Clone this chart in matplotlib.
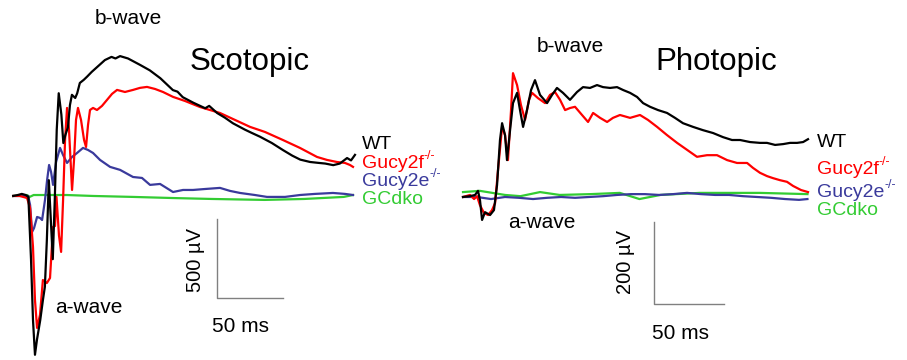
import numpy as np
import matplotlib
matplotlib.use("Agg")
import matplotlib.pyplot as plt

plt.rcParams['font.family'] = ['Liberation Sans', 'DejaVu Sans']

# ---- Scotopic traces: (time ms, amplitude uV) ----
wt_scot = [(-10.5, 0), (-7, 6), (-4, 13), (-1, 6), (1, -6), (3, -400), (4.5, -785), (6, -1005),
           (7.5, -910), (10, -785), (12, -660), (13.5, -575), (15, -280), (16.5, 100), (19.5, -400),
           (21, -25), (22.5, 420), (24, 650), (26, 515), (27.5, 335), (29, 385), (31, 435),
           (32.5, 575), (34, 640), (36.5, 620), (38, 650), (40, 715), (43, 735), (45.5, 755),
           (49, 785), (53, 815), (59, 860), (64, 880), (67, 870), (70.5, 885), (76.5, 870),
           (85.5, 830), (93, 795), (101, 745), (110.5, 670), (114, 660), (118, 625), (126, 590),
           (135, 555), (138, 570), (144, 525), (150, 495), (156, 460), (165, 420), (170, 400),
           (176.5, 375), (185.5, 335), (194, 290), (201, 255), (207, 230), (214.5, 215),
           (220, 210), (226, 205), (232, 195), (237, 205), (242.5, 240), (245.5, 225), (248.5, 260)]
f_scot = [(-10.5, 0), (-5.5, 0), (0, -13), (2.3, -76), (4.5, -323), (6, -658), (7.6, -835),
          (9.8, -753), (12, -532), (15, -551), (17.4, -519), (19.7, -196), (21.2, -190),
          (22.3, -6), (24.2, -250), (25.8, -354), (27.3, -25), (28.8, 354), (30.3, 557),
          (31.8, 418), (34.1, 38), (35.6, 228), (37.1, 481), (38.6, 557), (40.9, 481),
          (43.2, 354), (44.7, 310), (46.2, 449), (47.7, 544), (50, 557), (53, 544),
          (56.8, 570), (60.6, 608), (64.4, 646), (68.2, 671), (74.2, 658), (80.3, 671),
          (85.6, 684), (90.9, 690), (97, 677), (103, 658), (110.6, 627), (119.7, 601),
          (131, 563), (138.6, 544), (146.2, 525), (157.6, 481), (169, 437), (180.3, 405),
          (193.9, 354), (206.8, 304), (219.7, 247), (227.3, 228), (234.8, 215), (240.9, 209),
          (244.7, 196), (247, 184)]
e_scot = [(-10.5, 0), (0.8, 0), (2.3, -57), (3.8, -228), (5.3, -203), (7.6, -133), (9.8, -139),
          (11.4, -152), (13.6, -25), (15.2, 101), (16.7, 196), (18.2, 152), (19.7, 70),
          (22, 215), (25, 304), (27.3, 259), (30.3, 209), (34.1, 247), (37.9, 272), (42.4, 304),
          (46.2, 291), (50, 272), (55.3, 228), (62.9, 184), (70.5, 165), (80.3, 120),
          (87.1, 114), (93.2, 70), (100.8, 76), (110.6, 25), (118.2, 38), (125.8, 38),
          (134.8, 44), (146.2, 51), (153.8, 32), (161.4, 19), (172.7, 6), (181.8, -6),
          (195.5, -6), (206.8, 6), (218.2, 13), (231.8, 19), (240.9, 13), (247, 6)]
dko_scot = [(-10.5, 0), (0, 6), (2, -6), (5, 6), (15, 6), (30, 6), (50, 0), (80, -6),
            (110, -13), (140, -19), (180, -25), (210, -19), (240, -6), (247, 6)]

# ---- Photopic traces: (time ms, amplitude uV) ----
wt_phot = [(-10, 0), (-5, 2), (-1.4, 5), (0.7, 15), (2.1, -7), (3.6, -56), (5.7, -37), (9.3, -44),
           (12.1, -32), (14.3, 29), (16.4, 139), (17.9, 180), (20, 151), (21.4, 90), (23.6, 163),
           (25.7, 229), (28.6, 254), (30.7, 212), (32.9, 171), (35.7, 212), (38.6, 261),
           (41.4, 285), (45, 249), (50, 229), (53.6, 249), (57.1, 266), (61.4, 254), (66.4, 237),
           (71.4, 256), (75.7, 268), (80.7, 266), (85.7, 273), (90, 268), (95, 266), (100, 268),
           (104.3, 261), (109.3, 254), (114.3, 244), (118.6, 229), (123.6, 220), (129.3, 212),
           (135.7, 205), (141.4, 193), (147.1, 180), (154.3, 171), (161.4, 163), (168.6, 156),
           (175.7, 146), (182.1, 139), (187.9, 139), (195, 134), (202.1, 132), (207.1, 132),
           (212.9, 127), (218.6, 129), (223.6, 132), (228.6, 132), (232.9, 134), (236.4, 141)]
f_phot = [(-10, 0), (-5, 5), (-2.1, -5), (0, 2), (2.1, -20), (5, -39), (7.9, -44), (10.7, -32),
          (12.9, -15), (15, 66), (17.9, 171), (20, 151), (22.1, 90), (24.3, 212), (25.7, 302),
          (28.6, 273), (31.4, 224), (34.3, 188), (37.1, 237), (39.3, 254), (43.6, 241),
          (48.6, 229), (52.1, 249), (55.7, 256), (59.3, 237), (62.9, 212), (66.4, 217),
          (70, 220), (75, 200), (79.3, 183), (82.9, 205), (87.9, 193), (92.9, 183), (97.1, 193),
          (102.1, 200), (109.3, 193), (116.4, 200), (122.1, 188), (128.6, 171), (135.7, 151),
          (142.9, 132), (150, 115), (157.1, 98), (164.3, 102), (171.4, 102), (178.6, 90),
          (185.7, 83), (192.9, 83), (197.1, 71), (202.1, 59), (207.1, 51), (211.4, 46),
          (216.4, 41), (221.4, 37), (225.7, 27), (231.4, 17), (236.4, 12)]
e_phot = [(-10, 0), (0, 0), (10, -5), (20, 0), (30, -2), (40, -5), (50, -2), (60, 0), (70, -2),
          (80, 0), (90, 2), (100, 5), (110, 7), (120, 7), (130, 5), (140, 7), (150, 10),
          (160, 7), (170, 5), (180, 5), (190, 2), (200, 0), (210, -2), (220, -5), (230, -7),
          (236, -5)]
dko_phot = [(-10, 12), (2, 15), (20, 5), (31, 2), (45, 12), (59, 5), (81, 7), (102, 10),
            (116, -5), (131, 5), (159, 10), (202, 10), (236, 7)]

names = ['WT', 'Gucy2f', 'Gucy2e', 'GCdko']
supers = ['', '-/-', '-/-', '']
colors = ['#000000', '#ff0000', '#3a3a9c', '#33cc33']

fig = plt.figure(figsize=(9.07, 3.6), dpi=100)
ax1 = fig.add_axes([0, 0, 450 / 907, 1])
ax2 = fig.add_axes([450 / 907, 0, 457 / 907, 1])

panels = [
    (ax1, [wt_scot, f_scot, e_scot, dko_scot]),
    (ax2, [wt_phot, f_phot, e_phot, dko_phot]),
]

# draw traces (green first, black on top)
for ax, traces in panels:
    for tr, c in reversed(list(zip(traces, colors))):
        arr = np.array(tr)
        ax.plot(arr[:, 0], arr[:, 1], color=c, lw=1.6)
    ax.axis('off')

ax1.set_xlim(-20.5, 320.5)
ax1.set_ylim(-1038, 1240)
ax2.set_xlim(-19.3, 307.1)
ax2.set_ylim(-397.6, 480.5)

# scale bars
ax1.plot([144.2, 144.2, 194.2], [-147, -647, -647], color='#808080', lw=1)
ax2.plot([126.6, 126.6, 176.6], [-61, -261, -261], color='#808080', lw=1)


def genotype_labels(ax, x, ys):
    for lab, sup, c, yv in zip(names, supers, colors, ys):
        t = ax.text(x, yv, lab, color=c, fontsize=14, ha='left', va='center')
        if sup:
            ax.annotate(sup, xy=(1.0, 0.62), xycoords=t, color=c, fontsize=9,
                        ha='left', va='bottom')


# texts - scotopic
ax1.text(76.5, 1120, 'b-wave', fontsize=15, ha='center', va='center')
ax1.text(169, 848, 'Scotopic', fontsize=22.5, ha='center', va='center')
ax1.text(47, -703, 'a-wave', fontsize=15, ha='center', va='center')
ax1.text(127.3, -405, '500 µV', fontsize=14.5, rotation=90, ha='center', va='center')
ax1.text(161.4, -829, '50 ms', fontsize=15, ha='center', va='center')
genotype_labels(ax1, 253.8, [323, 203, 90, -20])

# texts - photopic
ax2.text(66.4, 368, 'b-wave', fontsize=15, ha='center', va='center')
ax2.text(170.7, 329, 'Photopic', fontsize=22.5, ha='center', va='center')
ax2.text(46.4, -63, 'a-wave', fontsize=15, ha='center', va='center')
ax2.text(105.7, -159, '200 µV', fontsize=14.5, rotation=90, ha='center', va='center')
ax2.text(145, -332, '50 ms', fontsize=15, ha='center', va='center')
genotype_labels(ax2, 242.9, [134, 66, 10, -34])

fig.savefig('out.png', dpi=100)
